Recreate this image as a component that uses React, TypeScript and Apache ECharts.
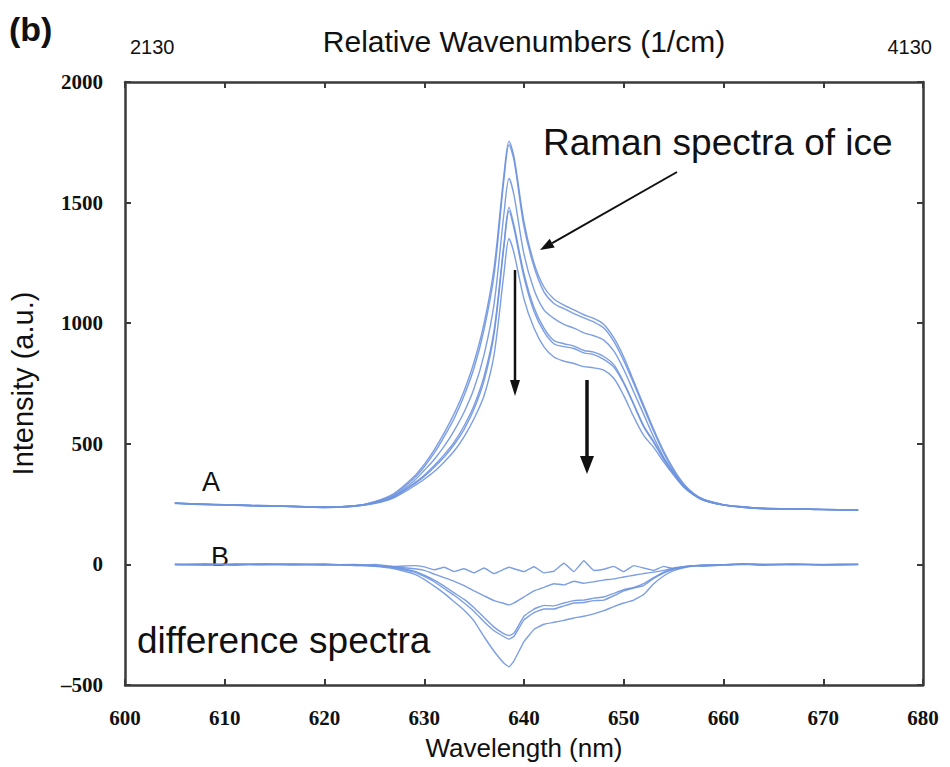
import React, { useEffect, useRef } from "react";
import * as echarts from "echarts";

const wavelengths = [605, 608, 611, 614, 617, 620, 623, 625, 627, 629, 630, 631, 632, 633, 634, 635, 636, 637, 638, 638.5, 639, 640, 641, 642, 643, 644, 645, 646, 647, 648, 649, 650, 651, 652, 653, 654, 655, 656, 657, 658, 660, 662, 664, 667, 670, 673.5];

const ramanA0 = [254, 250, 246, 243, 240, 238, 243, 260, 295, 365, 415, 475, 545, 625, 720, 840, 1000, 1230, 1620, 1755, 1690, 1420, 1250, 1150, 1100, 1075, 1055, 1035, 1020, 995, 940, 860, 760, 660, 560, 470, 395, 335, 295, 270, 248, 238, 233, 230, 228, 226];
const ramanA1 = [252, 249, 245, 242, 240, 238, 242, 258, 290, 358, 405, 462, 530, 605, 700, 815, 975, 1200, 1600, 1740, 1675, 1400, 1235, 1130, 1082, 1060, 1040, 1022, 1005, 980, 925, 845, 750, 650, 552, 462, 388, 330, 292, 268, 247, 237, 232, 229, 227, 225];
const ramanA2 = [254, 247, 248, 241, 241, 235, 243, 255, 285, 347, 390, 435, 490, 555, 632, 730, 870, 1080, 1458, 1600, 1530, 1285, 1140, 1055, 1020, 995, 980, 960, 948, 930, 885, 808, 715, 622, 528, 445, 380, 325, 289, 266, 246, 239, 231, 231, 227, 226];
const ramanA3 = [255, 249, 247, 242, 241, 237, 241, 255, 283, 337, 370, 410, 455, 507, 575, 660, 780, 970, 1332, 1480, 1405, 1205, 1065, 980, 928, 915, 905, 887, 880, 862, 828, 755, 665, 575, 510, 440, 377, 325, 290, 267, 247, 238, 232, 230, 228, 226];
const ramanA4 = [253, 251, 245, 244, 239, 238, 242, 254, 280, 333, 365, 403, 445, 497, 560, 645, 762, 955, 1320, 1465, 1392, 1190, 1050, 965, 915, 903, 895, 877, 870, 850, 818, 750, 662, 570, 505, 435, 375, 323, 289, 267, 247, 237, 233, 229, 228, 225];
const ramanA5 = [254, 249, 246, 243, 240, 238, 241, 252, 277, 325, 353, 385, 425, 470, 530, 605, 700, 870, 1210, 1350, 1290, 1100, 980, 902, 860, 843, 833, 820, 815, 805, 772, 700, 612, 535, 485, 425, 370, 321, 288, 266, 246, 236, 231, 229, 227, 226];

const diffB1 = [-2, 3, -4, 2, -3, 1, -5, 0, -8, -5, -10, -22, -12, -30, -18, -35, -15, -38, -20, -12, -18, -30, -10, -35, -28, 5, -30, 15, -25, -20, -8, -30, -5, -15, -25, -8, -18, -10, -5, -8, -2, 3, -4, 2, -3, -1];
const diffB2 = [0, -3, 2, -2, 1, -3, 0, -5, -10, -18, -25, -40, -55, -70, -88, -110, -130, -150, -162, -168, -160, -135, -110, -95, -80, -85, -70, -78, -72, -65, -60, -52, -45, -38, -32, -25, -15, -10, -6, -4, -2, 1, -2, 1, -1, 0];
const diffB3 = [1, -2, 0, 3, -1, -2, -2, -5, -12, -28, -45, -65, -90, -118, -145, -180, -220, -260, -288, -295, -285, -215, -185, -170, -172, -160, -150, -148, -140, -135, -120, -105, -95, -80, -55, -32, -18, -10, -5, -3, -1, 2, -1, 0, -2, 1];
const diffB4 = [-1, 1, -2, 0, 2, -1, -3, -6, -15, -32, -50, -72, -100, -128, -160, -195, -238, -275, -300, -310, -298, -230, -200, -185, -185, -172, -160, -158, -150, -148, -130, -110, -98, -88, -58, -36, -20, -12, -6, -3, -1, 0, 1, -2, 0, -1];
const diffB5 = [0, -2, 1, -1, 0, 2, -4, -8, -18, -40, -62, -90, -120, -155, -190, -235, -300, -360, -410, -425, -400, -320, -270, -248, -240, -232, -222, -215, -205, -192, -175, -160, -148, -125, -80, -48, -26, -14, -7, -4, -2, 0, -1, 1, -1, 0];

const ramanSeries = [ramanA0, ramanA1, ramanA2, ramanA3, ramanA4, ramanA5];
const diffSeries = [diffB1, diffB2, diffB3, diffB4, diffB5];

const xMin = 600;
const xMax = 680;
const xStep = 10;
const yMin = -500;
const yMax = 2000;
const yStep = 500;
const topLabels = ["2130", "4130"];

const LINE_COLOR = "#6e94df";
const FRAME = "#3a3a3a";

export default function App() {
  const ref = useRef<HTMLDivElement>(null);
  useEffect(() => {
    document.body.style.margin = "0";
    if (!ref.current) return;
    const chart = echarts.init(ref.current, null, { renderer: "svg" });
    const mk = (vals: number[], name: string, smooth: number) => ({
      type: "line",
      name,
      data: wavelengths.map((w, i) => [w, vals[i]]),
      showSymbol: false,
      symbol: "none",
      smooth,
      lineStyle: { color: LINE_COLOR, width: 1.4, opacity: 0.9 },
      xAxisIndex: 0,
      yAxisIndex: 0,
      silent: true,
    });
    const series: any[] = [
      ...ramanSeries.map((v, i) => mk(v, "A" + i, 0.3)),
      ...diffSeries.map((v, i) => mk(v, "B" + i, 0.1)),
    ];
    const tickStyle = { show: true, inside: true, length: 6, lineStyle: { color: FRAME, width: 2 } };
    const lineStyle = { show: true, onZero: false, lineStyle: { color: FRAME, width: 2.5 } };
    const serifLabel = {
      fontFamily: "Liberation Serif",
      fontWeight: "bold" as const,
      fontSize: 21,
      color: "#111",
    };
    const arrow = (x1: number, y1: number, x2: number, y2: number, w: number, hl: number, hw: number) => {
      const dx = x2 - x1;
      const dy = y2 - y1;
      const len = Math.sqrt(dx * dx + dy * dy);
      const ux = dx / len;
      const uy = dy / len;
      const bx = x2 - ux * hl;
      const by = y2 - uy * hl;
      const px = -uy;
      const py = ux;
      return [
        { type: "line", shape: { x1, y1, x2: bx, y2: by }, style: { stroke: "#111", lineWidth: w } },
        {
          type: "polygon",
          shape: { points: [[x2, y2], [bx + px * hw, by + py * hw], [bx - px * hw, by - py * hw]] },
          style: { fill: "#111" },
        },
      ];
    };
    chart.setOption({
      animation: false,
      backgroundColor: "#ffffff",
      grid: { left: 124, top: 82, right: 27, bottom: 82, containLabel: false },
      xAxis: [
        {
          type: "value",
          min: xMin,
          max: xMax,
          interval: xStep,
          position: "bottom",
          axisLine: lineStyle,
          axisTick: tickStyle,
          splitLine: { show: false },
          axisLabel: { ...serifLabel, margin: 22 },
          name: "Wavelength (nm)",
          nameLocation: "middle",
          nameGap: 50,
          nameTextStyle: { fontFamily: "Liberation Sans", fontSize: 26, color: "#111" },
        },
        {
          type: "value",
          min: xMin,
          max: xMax,
          interval: xStep,
          position: "top",
          axisLine: lineStyle,
          axisTick: tickStyle,
          splitLine: { show: false },
          axisLabel: { show: false },
          name: "Relative Wavenumbers (1/cm)",
          nameLocation: "middle",
          nameGap: 26,
          nameTextStyle: { fontFamily: "Liberation Sans", fontSize: 30, color: "#111" },
        },
      ],
      yAxis: [
        {
          type: "value",
          min: yMin,
          max: yMax,
          interval: yStep,
          position: "left",
          axisLine: lineStyle,
          axisTick: tickStyle,
          splitLine: { show: false },
          axisLabel: {
            ...serifLabel,
            margin: 22,
            formatter: (v: number) => (v < 0 ? "\u2013" + Math.abs(v) : String(v)),
          },
          name: "Intensity (a.u.)",
          nameLocation: "middle",
          nameRotate: 90,
          nameGap: 88,
          nameTextStyle: { fontFamily: "Liberation Sans", fontSize: 29, color: "#111" },
        },
        {
          type: "value",
          min: yMin,
          max: yMax,
          interval: yStep,
          position: "right",
          axisLine: lineStyle,
          axisTick: tickStyle,
          splitLine: { show: false },
          axisLabel: { show: false },
        },
      ],
      series,
      graphic: [
        { type: "text", left: 9, top: 12, style: { text: "(b)", fontFamily: "Liberation Sans", fontWeight: "bold", fontSize: 34, fill: "#111" } },
        { type: "text", x: 130, y: 47, style: { text: topLabels[0], fontFamily: "Liberation Sans", fontSize: 20, fill: "#111", verticalAlign: "middle" } },
        { type: "text", x: 932, y: 47, style: { text: topLabels[1], fontFamily: "Liberation Sans", fontSize: 20, fill: "#111", align: "right", verticalAlign: "middle" } },
        { type: "text", x: 543, y: 142, style: { text: "Raman spectra of ice", fontFamily: "Liberation Sans", fontSize: 37, fill: "#111", verticalAlign: "middle" } },
        { type: "text", x: 137, y: 640, style: { text: "difference spectra", fontFamily: "Liberation Sans", fontSize: 37, fill: "#111", verticalAlign: "middle" } },
        { type: "text", x: 202, y: 482, style: { text: "A", fontFamily: "Liberation Sans", fontSize: 27, fill: "#111", verticalAlign: "middle" } },
        { type: "text", x: 211, y: 557, style: { text: "B", fontFamily: "Liberation Sans", fontSize: 27, fill: "#111", verticalAlign: "middle" } },
        ...arrow(677, 172, 540, 250, 2, 14, 5),
        ...arrow(515, 270, 515, 396, 2.5, 16, 5),
        ...arrow(587, 380, 587, 474, 3.5, 18, 7),
      ],
    });
    return () => chart.dispose();
  }, []);
  return <div ref={ref} style={{ width: 950, height: 767 }} />;
}
